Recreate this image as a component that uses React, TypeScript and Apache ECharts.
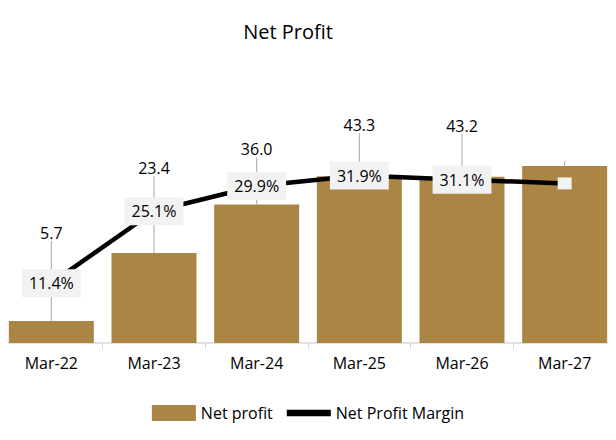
import React, { useEffect, useRef } from 'react';
import * as echarts from 'echarts';

const categories = ['Mar-22', 'Mar-23', 'Mar-24', 'Mar-25', 'Mar-26', 'Mar-27'];
const netProfit = [5.7, 23.4, 36.0, 43.3, 43.2, 46.0];
const margin = [11.4, 25.1, 29.9, 31.9, 31.1, 30.4];
const labelLift = [-75, -72, -42, -38, -38, 0];

const font = '"Open Sans", "Noto Sans", sans-serif';

function App() {
  const chartRef = useRef(null);

  useEffect(() => {
    const chart = echarts.init(chartRef.current, null, { renderer: 'svg' });
    chart.setOption({
      animation: false,
      textStyle: { fontFamily: font },
      title: {
        text: 'Net Profit',
        left: 283,
        top: 16,
        textAlign: 'center',
        textStyle: { fontSize: 20, fontWeight: 'normal', color: '#000', fontFamily: font },
      },
      legend: {
        bottom: 14,
        left: 'center',
        itemGap: 14,
        itemWidth: 44,
        itemHeight: 16,
        textStyle: { fontSize: 16, color: '#000', fontFamily: font },
        data: [
          { name: 'Net profit', icon: 'rect' },
          { name: 'Net Profit Margin', icon: 'path://M0,0H10V1.5H0Z' },
        ],
      },
      grid: { left: 0, top: 112, bottom: 97, right: -131 },
      xAxis: {
        type: 'category',
        data: categories,
        axisLine: { lineStyle: { color: '#d9d9d9', width: 1.5 } },
        axisTick: { show: true, lineStyle: { color: '#d9d9d9' }, length: 6 },
        axisLabel: { fontSize: 16, color: '#000', margin: 12, fontFamily: font },
      },
      yAxis: [
        { type: 'value', min: 0, max: 60, show: false },
        { type: 'value', min: 0, max: 44, show: false },
      ],
      series: [
        {
          name: 'Net profit',
          type: 'bar',
          data: netProfit,
          barWidth: 85,
          itemStyle: { color: '#ab8543' },
          label: {
            show: true,
            position: 'top',
            fontSize: 16,
            color: '#000',
            fontFamily: font,
            formatter: (p) => (p.dataIndex < 5 ? p.value.toFixed(1) : ''),
          },
          labelLine: { show: true, lineStyle: { color: '#a6a6a6', width: 1 } },
          labelLayout: (p) => ({ dy: labelLift[p.dataIndex] }),
        },
        {
          name: 'Net Profit Margin',
          type: 'line',
          yAxisIndex: 1,
          data: margin,
          symbol: 'circle',
          symbolSize: 2,
          showSymbol: true,
          lineStyle: { color: '#000', width: 4.5 },
          itemStyle: { color: '#000' },
          z: 5,
          label: {
            show: true,
            position: 'inside',
            fontSize: 16,
            color: '#000',
            fontFamily: font,
            backgroundColor: '#f2f2f2',
            padding: [6, 7],
            formatter: (p) => (p.dataIndex < 5 ? p.value.toFixed(1) + '%' : ''),
          },
        },
      ],
    });
    return () => chart.dispose();
  }, []);

  return <div ref={chartRef} style={{ width: 616, height: 440, margin: -8 }} />;
}

export default App;
